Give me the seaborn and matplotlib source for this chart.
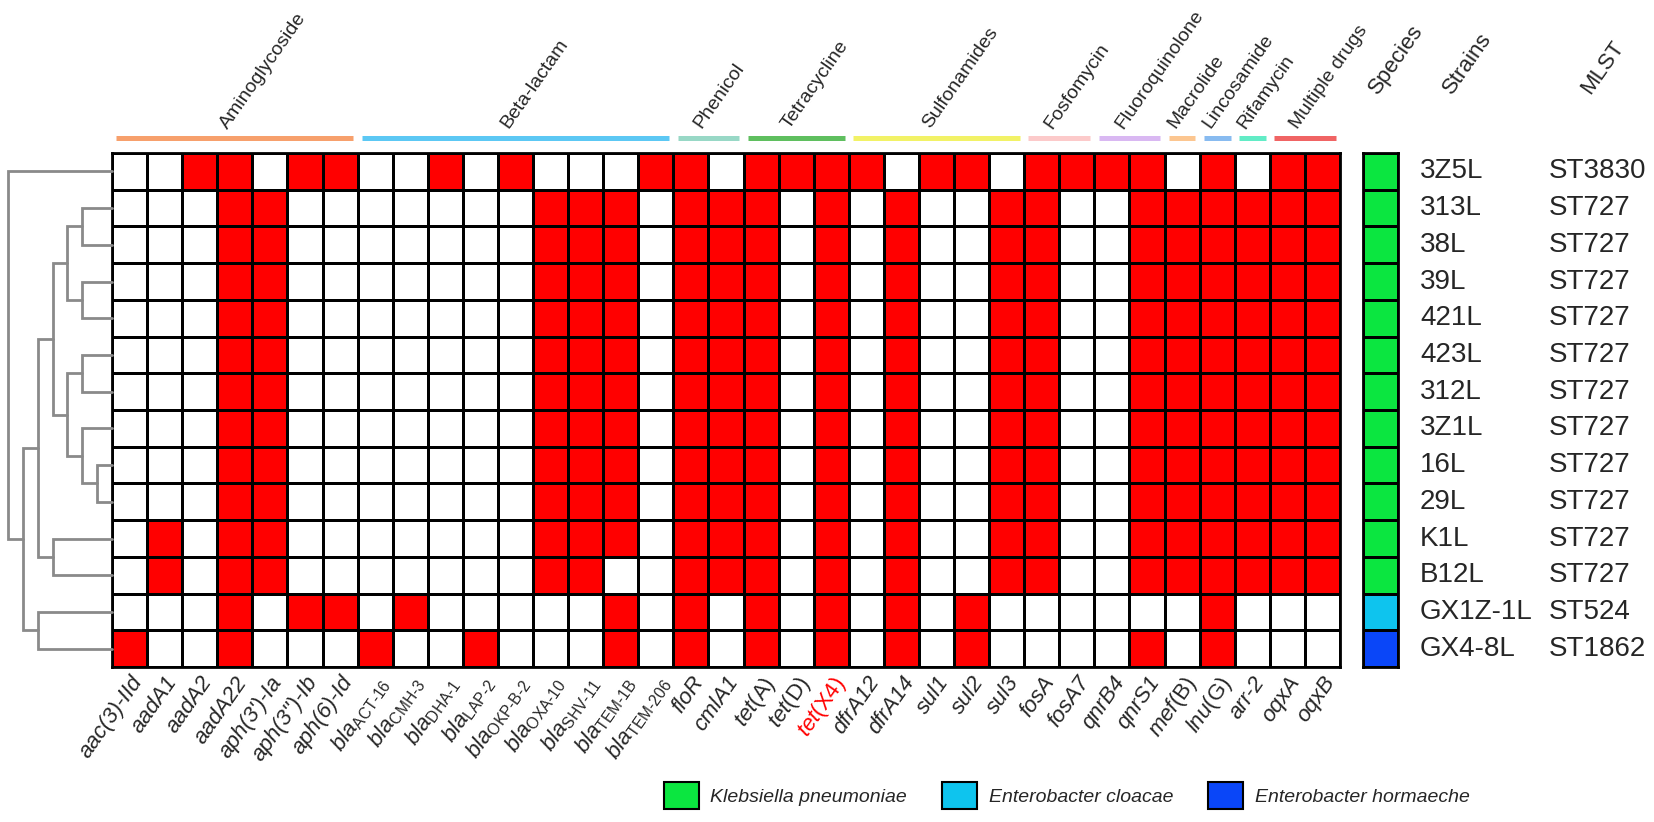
import numpy as np
import pandas as pd
import seaborn as sns
import matplotlib.pyplot as plt
from matplotlib.colors import ListedColormap
from matplotlib.patches import Patch

sns.set_style('white')
plt.rcParams['font.family'] = ['Liberation Sans', 'DejaVu Sans']
plt.rcParams['mathtext.fontset'] = 'custom'
plt.rcParams['mathtext.rm'] = 'Liberation Sans'
plt.rcParams['mathtext.it'] = 'Liberation Sans:italic'
plt.rcParams['mathtext.bf'] = 'Liberation Sans:bold'

# strains (rows, top to bottom)
strains = ['3Z5L', '313L', '38L', '39L', '421L', '423L', '312L', '3Z1L',
           '16L', '29L', 'K1L', 'B12L', 'GX1Z-1L', 'GX4-8L']
mlst = ['ST3830', 'ST727', 'ST727', 'ST727', 'ST727', 'ST727', 'ST727',
        'ST727', 'ST727', 'ST727', 'ST727', 'ST727', 'ST524', 'ST1862']
species_code = [0, 0, 0, 0, 0, 0, 0, 0, 0, 0, 0, 0, 1, 2]
species_names = ['Klebsiella pneumoniae', 'Enterobacter cloacae', 'Enterobacter hormaeche']
species_colors = ['#0be640', '#0ec4ee', '#0a46f8']

# resistance genes (columns)
genes = ['aac(3)-IId', 'aadA1', 'aadA2', 'aadA22', "aph(3')-Ia", "aph(3'')-Ib", 'aph(6)-Id',
         'blaACT-16', 'blaCMH-3', 'blaDHA-1', 'blaLAP-2', 'blaOKP-B-2', 'blaOXA-10',
         'blaSHV-11', 'blaTEM-1B', 'blaTEM-206', 'floR', 'cmlA1', 'tet(A)', 'tet(D)',
         'tet(X4)', 'dfrA12', 'dfrA14', 'sul1', 'sul2', 'sul3', 'fosA', 'fosA7', 'qnrB4',
         'qnrS1', 'mef(B)', 'lnu(G)', 'arr-2', 'oqxA', 'oqxB']

categories = ['Aminoglycoside', 'Beta-lactam', 'Phenicol', 'Tetracycline', 'Sulfonamides',
              'Fosfomycin', 'Fluoroquinolone', 'Macrolide', 'Lincosamide', 'Rifamycin',
              'Multiple drugs']
category_sizes = [7, 9, 2, 3, 5, 2, 2, 1, 1, 1, 2]
category_colors = ['#f7a06c', '#5cc8f4', '#98d8c6', '#5fbf5f', '#f2f266', '#fccaca',
                   '#d9b8f2', '#fcc690', '#88bbf0', '#62ecc6', '#f06464']

# presence (1) / absence (0) of each gene per strain
presence = [
    [0,0,1,1,0,1,1, 0,0,1,0,1,0,0,0,1, 1,0, 1,1,1, 1,0,1,1,0, 1,1, 1,1, 0, 1, 0, 1,1],
    [0,0,0,1,1,0,0, 0,0,0,0,0,1,1,1,0, 1,1, 1,0,1, 0,1,0,0,1, 1,0, 0,1, 1, 1, 1, 1,1],
    [0,0,0,1,1,0,0, 0,0,0,0,0,1,1,1,0, 1,1, 1,0,1, 0,1,0,0,1, 1,0, 0,1, 1, 1, 1, 1,1],
    [0,0,0,1,1,0,0, 0,0,0,0,0,1,1,1,0, 1,1, 1,0,1, 0,1,0,0,1, 1,0, 0,1, 1, 1, 1, 1,1],
    [0,0,0,1,1,0,0, 0,0,0,0,0,1,1,1,0, 1,1, 1,0,1, 0,1,0,0,1, 1,0, 0,1, 1, 1, 1, 1,1],
    [0,0,0,1,1,0,0, 0,0,0,0,0,1,1,1,0, 1,1, 1,0,1, 0,1,0,0,1, 1,0, 0,1, 1, 1, 1, 1,1],
    [0,0,0,1,1,0,0, 0,0,0,0,0,1,1,1,0, 1,1, 1,0,1, 0,1,0,0,1, 1,0, 0,1, 1, 1, 1, 1,1],
    [0,0,0,1,1,0,0, 0,0,0,0,0,1,1,1,0, 1,1, 1,0,1, 0,1,0,0,1, 1,0, 0,1, 1, 1, 1, 1,1],
    [0,0,0,1,1,0,0, 0,0,0,0,0,1,1,1,0, 1,1, 1,0,1, 0,1,0,0,1, 1,0, 0,1, 1, 1, 1, 1,1],
    [0,0,0,1,1,0,0, 0,0,0,0,0,1,1,1,0, 1,1, 1,0,1, 0,1,0,0,1, 1,0, 0,1, 1, 1, 1, 1,1],
    [0,1,0,1,1,0,0, 0,0,0,0,0,1,1,1,0, 1,1, 1,0,1, 0,1,0,0,1, 1,0, 0,1, 1, 1, 1, 1,1],
    [0,1,0,1,1,0,0, 0,0,0,0,0,1,1,0,0, 1,1, 1,0,1, 0,1,0,0,1, 1,0, 0,1, 1, 1, 1, 1,1],
    [0,0,0,1,0,1,1, 0,1,0,0,0,0,0,1,0, 1,0, 1,0,1, 0,1,0,1,0, 0,0, 0,0, 0, 1, 0, 0,0],
    [1,0,0,1,0,0,0, 1,0,0,1,0,0,0,1,0, 1,0, 1,0,1, 0,1,0,1,0, 0,0, 0,1, 0, 1, 0, 0,0],
]

# clustering of strains: (child a, child b, height); new nodes numbered from 14
merges = [(8, 9, 1), (1, 2, 2), (3, 4, 2), (5, 6, 2), (7, 14, 2), (15, 16, 3),
          (17, 18, 3), (19, 20, 4), (10, 11, 4), (21, 22, 5), (12, 13, 5),
          (23, 24, 6), (0, 25, 7)]

ANGLE = 55


def gene_label(g):
    if g.startswith('bla'):
        return r'bla$_{\text{%s}}$' % g[3:]
    if '(' in g and g[:3] in ('tet', 'mef', 'lnu'):
        return r'%s$\text{%s}$' % (g[:3], g[3:])
    return g


W, H = 1654, 822


def box(x0, y0, x1, y1):
    return [x0 / W, 1 - y1 / H, (x1 - x0) / W, (y1 - y0) / H]


fig = plt.figure(figsize=(16.54, 8.22), dpi=100)
ax = fig.add_axes(box(112, 153, 1340, 667))
ax_d = fig.add_axes(box(8, 153, 112, 667))
ax_s = fig.add_axes(box(1363, 153, 1398, 667))

df = pd.DataFrame(presence, index=strains, columns=genes)
sns.heatmap(df, ax=ax, cmap=ListedColormap(['white', '#ff0000']), vmin=0, vmax=1,
            cbar=False, linewidths=2, linecolor='black', yticklabels=False)
ax.set_xticklabels([gene_label(g) for g in genes], rotation=ANGLE, ha='right',
                   rotation_mode='anchor', fontsize=16, fontstyle='italic')
ax.tick_params(axis='x', length=0, pad=4)
ax.get_xticklabels()[genes.index('tet(X4)')].set_color('#ff0000')
for sp in ax.spines.values():
    sp.set_visible(True)
    sp.set_linewidth(2)
    sp.set_color('black')

# category bars + labels
start = 0
for name, size, col in zip(categories, category_sizes, category_colors):
    ax.plot([start + 0.12, start + size - 0.12], [-0.41, -0.41], color=col, lw=3.6,
            solid_capstyle='butt', clip_on=False)
    ax.text(start + size / 2 - 0.1, -0.58, name, rotation=ANGLE, rotation_mode='anchor',
            ha='left', va='bottom', fontsize=14)
    start += size

# species column
sp_df = pd.DataFrame({'Species': species_code}, index=strains)
sns.heatmap(sp_df, ax=ax_s, cmap=ListedColormap(species_colors), vmin=-0.5, vmax=2.5,
            cbar=False, linewidths=2, linecolor='black', xticklabels=False, yticklabels=False)
for sp in ax_s.spines.values():
    sp.set_visible(True)
    sp.set_linewidth(2)
    sp.set_color('black')
for i, (s, m) in enumerate(zip(strains, mlst)):
    ax_s.text(1.63, i + 0.5, s, ha='left', va='center', fontsize=20, clip_on=False)
    ax_s.text(5.3, i + 0.5, m, ha='left', va='center', fontsize=20, clip_on=False)
for x, t in [(0.55, 'Species'), (2.65, 'Strains'), (6.6, 'MLST')]:
    ax_s.text(x, -1.5, t, rotation=ANGLE, rotation_mode='anchor', ha='left',
              va='bottom', fontsize=16, clip_on=False)

# dendrogram
pos = {i: (i + 0.5, 0.0) for i in range(len(strains))}
for k, (a, b, h) in enumerate(merges):
    ya, ha_ = pos[a]
    yb, hb = pos[b]
    ax_d.plot([ha_, h, h, hb], [ya, ya, yb, yb], color='#8a8a8a', lw=2,
              solid_joinstyle='miter', clip_on=False)
    pos[len(strains) + k] = ((ya + yb) / 2, h)
ax_d.set_xlim(7, 0)
ax_d.set_ylim(len(strains), 0)
ax_d.axis('off')

handles = [Patch(facecolor=c, edgecolor='black', linewidth=1.5, label=n)
           for n, c in zip(species_names, species_colors)]
fig.legend(handles=handles, loc='center', bbox_to_anchor=(0.645, 0.032), ncol=3,
           frameon=False, prop={'size': 14, 'style': 'italic'}, handlelength=1.8,
           handleheight=1.8, handletextpad=0.6, columnspacing=1.8)

fig.savefig('out.png', dpi=100)
